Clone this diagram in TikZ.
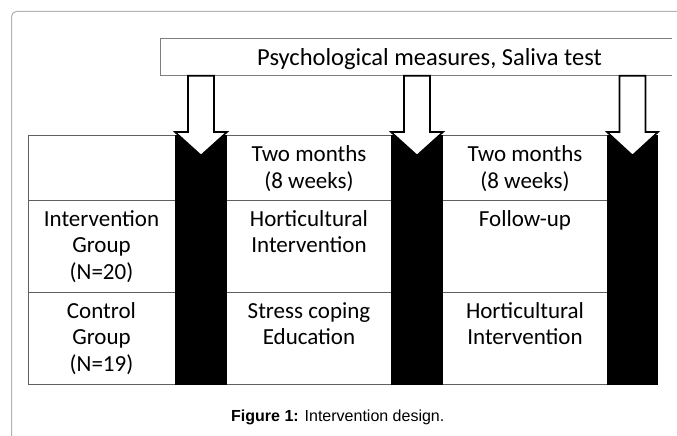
\documentclass[tikz,border=0pt]{standalone}
\usepackage{fontspec}
\setmainfont{Carlito}
\newfontfamily\capfont{Liberation Sans}
\definecolor{framegray}{RGB}{178,178,178}
\definecolor{gridgray}{RGB}{95,95,95}
\definecolor{boxgray}{RGB}{125,125,125}
\begin{document}
\begin{tikzpicture}[x=1pt,y=-1pt,
  cell/.style={anchor=base, align=center, inner sep=0pt,
    font=\fontsize{23}{26.5}\selectfont},
  gridline/.style={draw=gridgray, line width=0.9pt},
  bar/.style={fill=black},
  downarrow/.style={fill=white, draw=black, line width=1.6pt, miter limit=10}]
\useasboundingbox (0,0) rectangle (677,436);

% page frame
\draw[framegray, line width=1pt, rounded corners=5pt]
  (11.5,436) -- (11.5,11.5) -- (677,11.5);

% measurement box across the top
\draw[boxgray, line width=0.9pt]
  (672,38.3) -- (160.7,38.3) -- (160.7,75.7) -- (672,75.7);
\node[cell, font=\fontsize{24.5}{28}\selectfont] (measures) at (429.5,66)
  {Psychological measures, Saliva test};

% table rules
\foreach \yy in {135,200,292,384}
  \draw[gridline] (28,\yy) -- (658,\yy);
\draw[gridline] (28,135) -- (28,384);

% black measurement bars and their arrows
\foreach \L/\R in {175/227, 391/443, 607/658} {
  \pgfmathsetmacro{\c}{(\L+\R)/2}
  \fill[bar] (\L,134.5) rectangle (\R,384.5);
  \draw[downarrow]
    (\c-13,75.7) -- (\c-13,132) -- (\L,132) -- (\c,155.5)
    -- (\R,132) -- (\c+13,132) -- (\c+13,75.7) -- cycle;
}

% cell texts (anchored at the baseline of their last line)
\node[cell] (t1) at (309,188.2) {Two months\\(8 weeks)};
\node[cell] (t2) at (525,188.2) {Two months\\(8 weeks)};
\node[cell] (ig) at (101.5,279) {Intervention\\Group\\(N=20)};
\node[cell] (ih) at (309,252.5) {Horticultural\\Intervention};
\node[cell] (if) at (525,226) {Follow-up};
\node[cell] (cg) at (101.5,371) {Control\\Group\\(N=19)};
\node[cell] (cs) at (309,344.5) {Stress coping\\Education};
\node[cell] (ch) at (525,344.5) {Horticultural\\Intervention};

% caption
\node[anchor=base west, inner sep=0pt, font=\capfont\fontsize{16}{19}\selectfont]
  (caption) at (231,421.7) {\textbf{Figure 1:} Intervention design.};
\end{tikzpicture}
\end{document}
